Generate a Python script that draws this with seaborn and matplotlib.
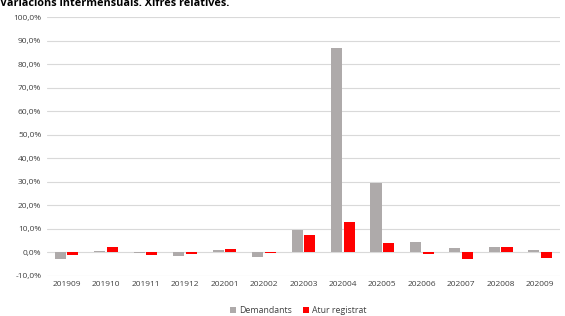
import numpy as np
import matplotlib.pyplot as plt
import seaborn as sns
import pandas as pd
from matplotlib.ticker import FuncFormatter, MultipleLocator

mesos = ['201909', '201910', '201911', '201912', '202001', '202002', '202003',
         '202004', '202005', '202006', '202007', '202008', '202009']
demandants = [-3.0, 0.6, -0.4, -1.5, 1.1, -2.0, 9.3, 86.7, 29.6, 4.2, 1.8, 2.1, 0.8]
atur = [-1.0, 2.3, -1.2, -0.5, 1.6, -0.1, 7.3, 12.7, 3.8, -0.5, -2.8, 2.1, -2.6]

df = pd.DataFrame({
    'mes': mesos * 2,
    'valor': demandants + atur,
    'serie': ['Demandants'] * len(mesos) + ['Atur registrat'] * len(mesos),
})

sns.set_style('white')
plt.rcParams['font.family'] = ['Open Sans', 'DejaVu Sans']

fig = plt.figure(figsize=(5.65, 3.16), dpi=100)
ax = fig.add_axes([0.083, 0.127, 0.908, 0.819])

sns.barplot(data=df, x='mes', y='valor', hue='serie', ax=ax,
            palette=['#AEAAAA', '#FF0000'], width=0.64, gap=0.12,
            saturation=1, linewidth=0, legend=True)

ax.set_ylim(-10, 100)
ax.yaxis.set_major_locator(MultipleLocator(10))
ax.yaxis.set_major_formatter(FuncFormatter(lambda v, p: f'{v:.1f}%'.replace('.', ',')))
ax.grid(axis='y', color='#D9D9D9', linewidth=0.8)
ax.set_axisbelow(True)
for s in ax.spines.values():
    s.set_visible(False)
ax.set_xlabel('')
ax.set_ylabel('')
ax.tick_params(axis='both', labelsize=6, colors='#404040', length=0, pad=4)
ax.set_xlim(-0.5, len(mesos) - 0.5)

ax.legend(loc='upper center', bbox_to_anchor=(0.49, -0.085), ncol=2, frameon=False,
          fontsize=6.3, handlelength=0.7, handleheight=0.7, columnspacing=1.2,
          handletextpad=0.4, labelcolor='#404040')

fig.text(0.0, 0.99, 'Variacions intermensuals. Xifres relatives.', fontsize=7.8,
         fontweight='bold', va='center', ha='left', color='#000000')

plt.savefig('out.png', dpi=100)
